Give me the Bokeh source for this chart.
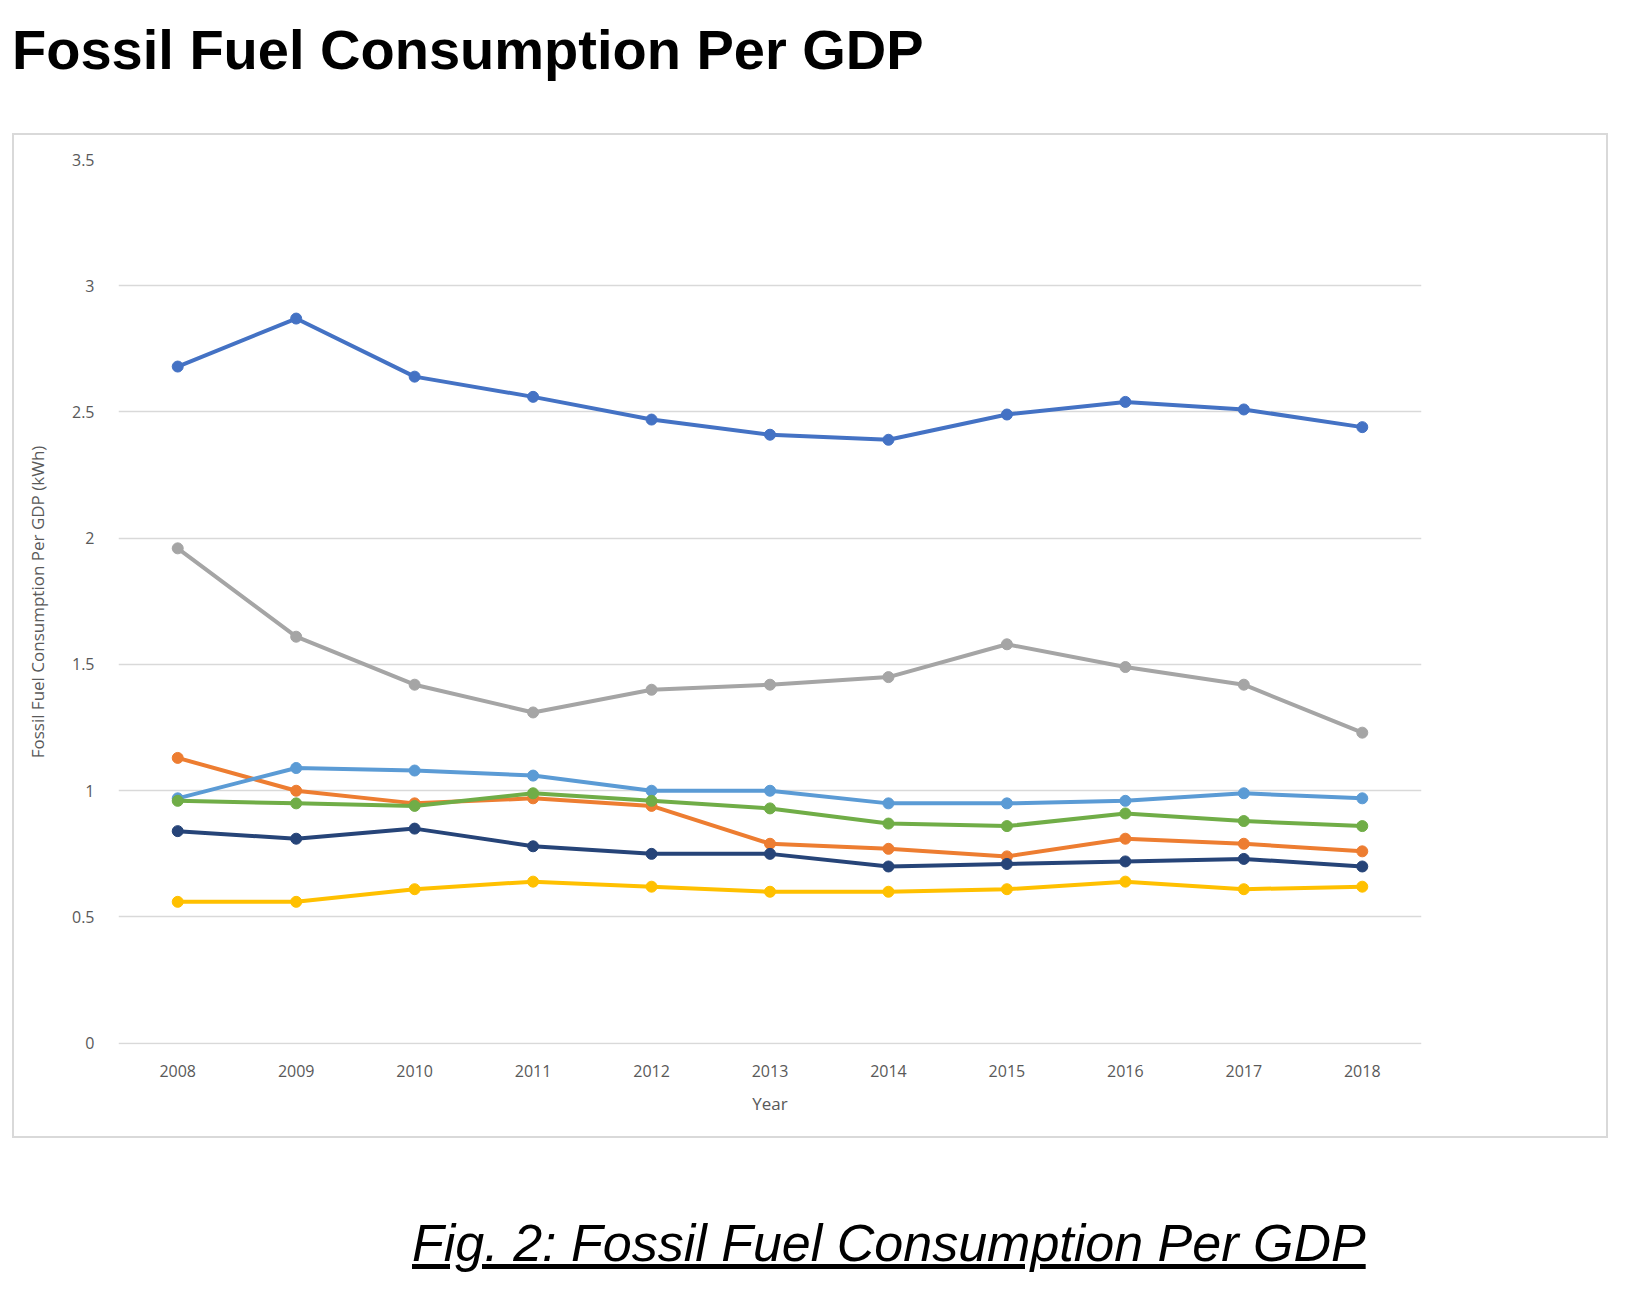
from bokeh.plotting import figure
from bokeh.layouts import column
from bokeh.models import Div, Legend, FixedTicker
from bokeh.embed import file_html
from bokeh.resources import INLINE

years = [2008, 2009, 2010, 2011, 2012, 2013, 2014, 2015, 2016, 2017, 2018]
singapore = [2.68, 2.87, 2.64, 2.56, 2.47, 2.41, 2.39, 2.49, 2.54, 2.51, 2.44]
romania = [1.13, 1.00, 0.95, 0.97, 0.94, 0.79, 0.77, 0.74, 0.81, 0.79, 0.76]
qatar = [1.96, 1.61, 1.42, 1.31, 1.40, 1.42, 1.45, 1.58, 1.49, 1.42, 1.23]
peru = [0.56, 0.56, 0.61, 0.64, 0.62, 0.60, 0.60, 0.61, 0.64, 0.61, 0.62]
hong_kong = [0.97, 1.09, 1.08, 1.06, 1.00, 1.00, 0.95, 0.95, 0.96, 0.99, 0.97]
chile = [0.96, 0.95, 0.94, 0.99, 0.96, 0.93, 0.87, 0.86, 0.91, 0.88, 0.86]
austria = [0.84, 0.81, 0.85, 0.78, 0.75, 0.75, 0.70, 0.71, 0.72, 0.73, 0.70]

series = [
    ("Singapore", singapore, "#4472C4"),
    ("Romania", romania, "#ED7D31"),
    ("Qatar", qatar, "#A5A5A5"),
    ("Peru", peru, "#FFC000"),
    ("Hong Kong", hong_kong, "#5B9BD5"),
    ("Chile", chile, "#70AD47"),
    ("Austria", austria, "#264478"),
]

title = Div(text="Fossil Fuel Consumption Per GDP", width=1600, height=118,
            styles={"font-family": "Liberation Sans", "font-weight": "bold",
                    "font-size": "56px", "color": "#000", "margin-left": "12px",
                    "margin-top": "10px"})

p = figure(width=1596, height=1005, x_range=(2007.5, 2018.5), y_range=(-0.005, 3.5),
           output_backend="svg", toolbar_location=None,
           min_border_left=104, min_border_top=24, min_border_bottom=96,
           min_border_right=189)
p.outline_line_color = None
p.border_fill_color = "white"
p.styles = {"border": "2px solid #d9d9d9", "margin-left": "12px"}

items = []
for name, vals, col in series:
    r1 = p.line(years, vals, line_width=4, color=col)
    r2 = p.scatter(years, vals, size=11, color=col)
    items.append((name, [r1, r2]))

legend = Legend(items=items, location=(1333, 265), border_line_color=None,
                background_fill_alpha=0,
                label_text_font="Open Sans", label_text_font_size="16px",
                label_text_color="#404040", spacing=16, glyph_width=44,
                padding=0, margin=0, label_standoff=2)
p.add_layout(legend)

p.xaxis.ticker = FixedTicker(ticks=years)
p.yaxis.ticker = FixedTicker(ticks=[0, 0.5, 1, 1.5, 2, 2.5, 3, 3.5])
p.yaxis.major_label_overrides = {0: "0", 1: "1", 2: "2", 3: "3"}
p.xgrid.grid_line_color = None
p.ygrid.grid_line_color = "#d9d9d9"
p.ygrid.grid_line_width = 1.5
for ax in (p.xaxis, p.yaxis):
    ax.axis_line_color = None
    ax.major_tick_line_color = None
    ax.minor_tick_line_color = None
    ax.major_label_text_font = "Open Sans"
    ax.major_label_text_font_size = "16px"
    ax.major_label_text_color = "#595959"
    ax.axis_label_text_font = "Open Sans"
    ax.axis_label_text_font_size = "17px"
    ax.axis_label_text_font_style = "normal"
    ax.axis_label_text_color = "#595959"
p.xaxis.axis_label = "Year"
p.xaxis.major_label_standoff = 14
p.xaxis.axis_label_standoff = 12
p.yaxis.axis_label = "Fossil Fuel Consumption Per GDP (kWh)"
p.yaxis.major_label_standoff = 18
p.yaxis.axis_label_standoff = 20

caption = Div(text="<u>Fig. 2: Fossil Fuel Consumption Per GDP</u>", width=1600, height=120,
              styles={"font-family": "Liberation Sans", "font-style": "italic",
                      "font-size": "52px",
                      "color": "#000", "margin-left": "412px", "margin-top": "68px"})

layout = column(title, p, caption, spacing=0)
open("out.html", "w").write(file_html(layout, INLINE))
